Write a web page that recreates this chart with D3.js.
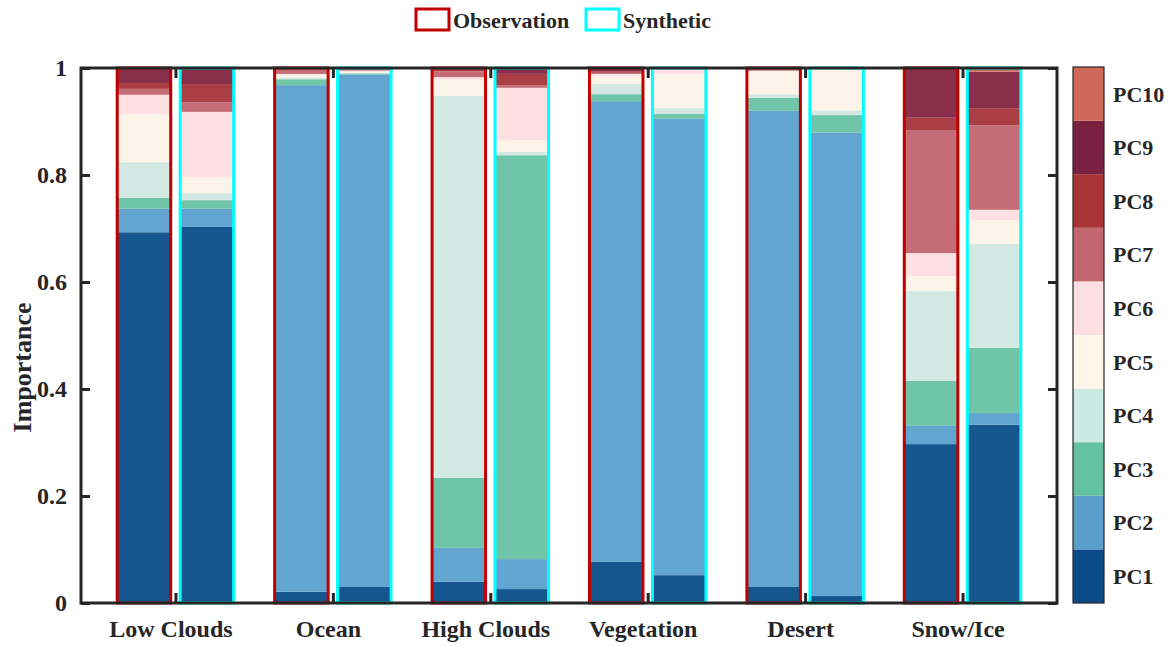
<!DOCTYPE html>
<html>
<head>
<meta charset="utf-8">
<script src="https://cdn.jsdelivr.net/npm/d3@7"></script>
<style>
  html, body { margin: 0; padding: 0; background: #ffffff; }
  svg { display: block; }
  text { font-family: "Liberation Serif", "Times New Roman", serif; font-weight: bold; fill: #262626; }
</style>
</head>
<body>
<svg id="chart" width="1169" height="646"></svg>
<script>
// Surface categories along the x axis
const categories = ["Low Clouds", "Ocean", "High Clouds", "Vegetation", "Desert", "Snow/Ice"];

// Principal components, stacked bottom (PC1) to top (PC10)
const components = ["PC1", "PC2", "PC3", "PC4", "PC5", "PC6", "PC7", "PC8", "PC9", "PC10"];

// Importance of each component, one row per category (observation)
const observation = [
  [0.693, 0.044, 0.020, 0.067, 0.090, 0.036, 0.011, 0.011, 0.026, 0.002],
  [0.021, 0.947, 0.011, 0.003, 0.005, 0.002, 0.009, 0.001, 0.001, 0.000],
  [0.040, 0.063, 0.131, 0.714, 0.030, 0.005, 0.011, 0.003, 0.003, 0.000],
  [0.077, 0.861, 0.013, 0.019, 0.015, 0.004, 0.002, 0.003, 0.004, 0.002],
  [0.030, 0.890, 0.024, 0.007, 0.043, 0.001, 0.003, 0.001, 0.001, 0.000],
  [0.297, 0.034, 0.084, 0.168, 0.028, 0.043, 0.230, 0.023, 0.091, 0.002]
];

// Importance of each component, one row per category (synthetic)
const synthetic = [
  [0.703, 0.034, 0.016, 0.013, 0.030, 0.122, 0.018, 0.034, 0.028, 0.002],
  [0.030, 0.958, 0.002, 0.001, 0.002, 0.002, 0.004, 0.001, 0.000, 0.000],
  [0.026, 0.056, 0.755, 0.006, 0.022, 0.098, 0.005, 0.021, 0.009, 0.002],
  [0.052, 0.853, 0.009, 0.011, 0.064, 0.009, 0.002, 0.000, 0.000, 0.000],
  [0.013, 0.866, 0.033, 0.009, 0.077, 0.002, 0.000, 0.000, 0.000, 0.000],
  [0.333, 0.022, 0.122, 0.194, 0.045, 0.019, 0.158, 0.032, 0.068, 0.007]
];

const yTicks = [0, 0.2, 0.4, 0.6, 0.8, 1];
const yTickLabels = ["0", "0.2", "0.4", "0.6", "0.8", "1"];

const series = [
  { name: "Observation", values: observation, edge: "#c00000", offset: -0.2 },
  { name: "Synthetic", values: synthetic, edge: "#00ffff", offset: 0.2 }
];

// Fill colours for the bar segments and for the colour bar
const barColors = ["#15568f", "#62a5d0", "#70c4a8", "#d1e9e2", "#fcf4e8", "#fde0e2", "#c46d76", "#a93e44", "#88304b", "#cf6f60"];
const keyColors = ["#0a4b88", "#5a9fcc", "#64c2a2", "#cdeae2", "#fdf5e8", "#fddfe1", "#c26670", "#a83438", "#7a2040", "#cf6a5a"];

const svg = d3.select("#chart");
const plotLeft = 81, plotRight = 1057, plotTop = 68, plotBottom = 603;
const axisColor = "#262626";

const x = d3.scaleLinear().domain([0.4, categories.length + 0.6]).range([plotLeft, plotRight]);
const y = d3.scaleLinear().domain([0, 1]).range([plotBottom, plotTop]);
const barW = x(0.34) - x(0);

// Stacked bars
const stack = d3.stack().keys(d3.range(components.length));
series.forEach(s => {
  const layers = stack(s.values);
  const g = svg.append("g");
  layers.forEach((layer, k) => {
    g.selectAll(null)
      .data(layer)
      .enter().append("rect")
      .attr("x", (d, i) => x(i + 1 + s.offset) - barW / 2)
      .attr("width", barW)
      .attr("y", d => y(d[1]))
      .attr("height", d => Math.max(0, y(d[0]) - y(d[1])))
      .attr("fill", barColors[k]);
  });
  // Outline of each whole bar
  g.selectAll(null)
    .data(s.values)
    .enter().append("rect")
    .attr("x", (d, i) => x(i + 1 + s.offset) - barW / 2)
    .attr("width", barW)
    .attr("y", d => y(d3.sum(d)))
    .attr("height", d => y(0) - y(d3.sum(d)))
    .attr("fill", "none")
    .attr("stroke", s.edge)
    .attr("stroke-width", 3);
});

// Axes box with inward ticks
const axG = svg.append("g");
axG.append("rect")
  .attr("x", plotLeft).attr("y", plotTop)
  .attr("width", plotRight - plotLeft).attr("height", plotBottom - plotTop)
  .attr("fill", "none").attr("stroke", axisColor).attr("stroke-width", 3);

const yAxisL = d3.axisLeft(y).tickValues(yTicks).tickSize(-9).tickPadding(14)
  .tickFormat((d, i) => yTickLabels[i]);
axG.append("g").attr("transform", `translate(${plotLeft},0)`).call(yAxisL)
  .call(g => g.select(".domain").remove())
  .call(g => g.selectAll("line").attr("stroke", axisColor).attr("stroke-width", 3))
  .call(g => g.selectAll("text").style("font-size", "24px").attr("fill", axisColor)
    .style("font-family", "'Liberation Serif', serif").style("font-weight", "bold"));

const yAxisR = d3.axisRight(y).tickValues(yTicks).tickSize(-9).tickFormat("");
axG.append("g").attr("transform", `translate(${plotRight},0)`).call(yAxisR)
  .call(g => g.select(".domain").remove())
  .call(g => g.selectAll("line").attr("stroke", axisColor).attr("stroke-width", 3));

const catTicks = d3.range(1, categories.length + 1);
const xAxisB = d3.axisBottom(x).tickValues(catTicks).tickSize(-10).tickPadding(17)
  .tickFormat((d, i) => categories[i]);
axG.append("g").attr("transform", `translate(0,${plotBottom})`).call(xAxisB)
  .call(g => g.select(".domain").remove())
  .call(g => g.selectAll("line").attr("stroke", axisColor).attr("stroke-width", 3))
  .call(g => g.selectAll("text").style("font-size", "24px").attr("fill", axisColor)
    .attr("dx", -5)
    .style("font-family", "'Liberation Serif', serif").style("font-weight", "bold"));

const xAxisT = d3.axisTop(x).tickValues(catTicks).tickSize(-10).tickFormat("");
axG.append("g").attr("transform", `translate(0,${plotTop})`).call(xAxisT)
  .call(g => g.select(".domain").remove())
  .call(g => g.selectAll("line").attr("stroke", axisColor).attr("stroke-width", 3));

// y axis title
svg.append("text")
  .attr("transform", `translate(31,${(plotTop + plotBottom) / 2 + 32}) rotate(-90)`)
  .attr("text-anchor", "middle")
  .style("font-size", "26px")
  .text("Importance");

// Legend
const legend = svg.append("g");
const legendItems = [
  { label: "Observation", color: "#c00000", x: 416 },
  { label: "Synthetic", color: "#00ffff", x: 586 }
];
legendItems.forEach(item => {
  legend.append("rect")
    .attr("x", item.x).attr("y", 9).attr("width", 33).attr("height", 21)
    .attr("fill", "none").attr("stroke", item.color).attr("stroke-width", 3);
  legend.append("text")
    .attr("x", item.x + 37).attr("y", 28)
    .style("font-size", "22px")
    .text(item.label);
});

// Colour bar keyed to the components
const cbX = 1073, cbW = 31;
const cb = d3.scaleBand().domain(components).range([plotBottom, plotTop - 1]);
const cbG = svg.append("g");
cbG.selectAll(null)
  .data(components)
  .enter().append("rect")
  .attr("x", cbX)
  .attr("y", d => cb(d))
  .attr("width", cbW)
  .attr("height", cb.bandwidth())
  .attr("fill", (d, i) => keyColors[i]);
cbG.append("rect")
  .attr("x", cbX).attr("y", plotTop - 1)
  .attr("width", cbW).attr("height", plotBottom - plotTop + 1)
  .attr("fill", "none").attr("stroke", "#262626").attr("stroke-width", 1.2);
cbG.selectAll(null)
  .data(components)
  .enter().append("text")
  .attr("x", cbX + cbW + 9)
  .attr("y", d => cb(d) + cb.bandwidth() / 2)
  .attr("dy", "0.35em")
  .style("font-size", "22px")
  .text(d => d);
</script>
</body>
</html>
